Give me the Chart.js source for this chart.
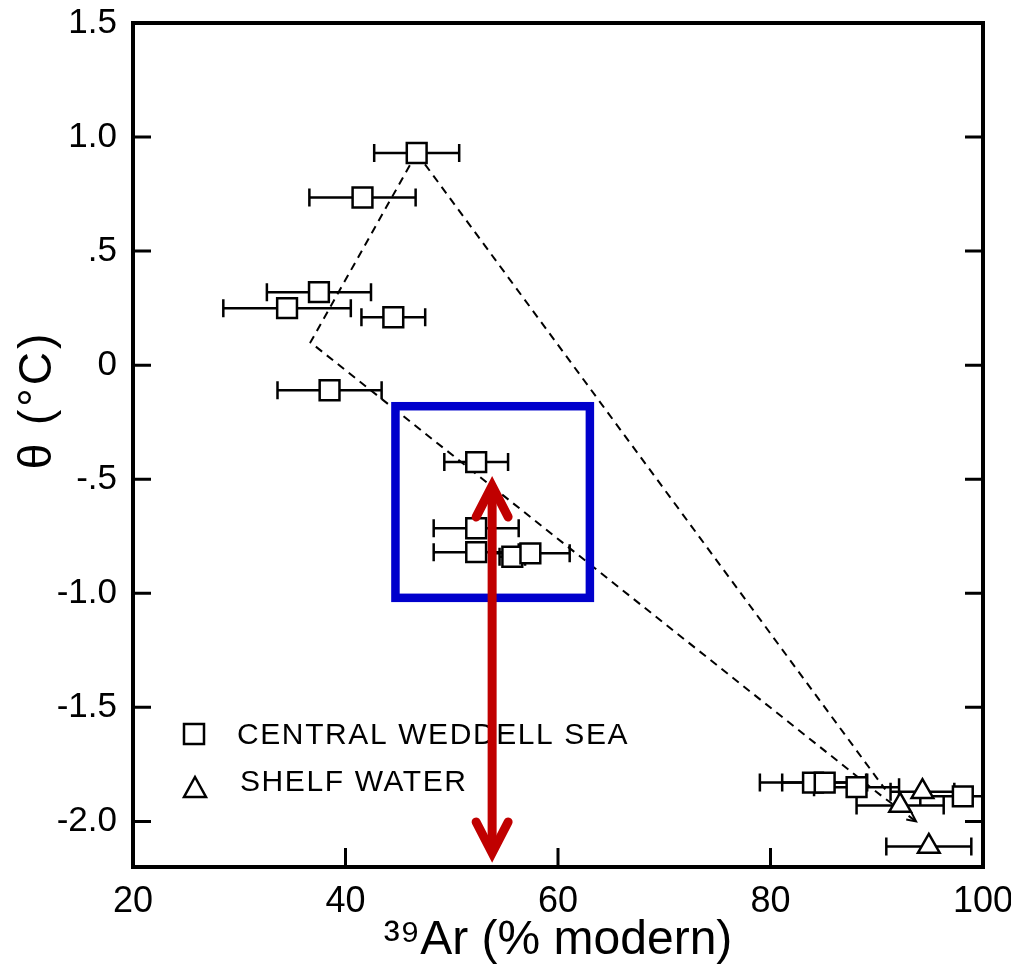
<!DOCTYPE html>
<html lang="en">
<head>
<meta charset="UTF-8">
<title>39Ar vs potential temperature</title>
<script src="https://cdn.jsdelivr.net/npm/chart.js@4.4.1/dist/chart.umd.min.js"></script>
<style>
  html, body { margin: 0; padding: 0; background: #fff; }
  .chartBox { width: 1011px; height: 965px; }
</style>
</head>
<body>
<div class="chartBox"><canvas id="myChart"></canvas></div>
<script>
// Central Weddell Sea samples (x = 39Ar % modern, y = theta degC, xErr = +/- error)
const cwsX   = [46.7, 41.6, 37.5, 34.5, 44.5, 38.5, 52.3, 52.3, 52.3, 55.7, 57.4, 84.0, 85.1, 88.1, 98.1];
const cwsY   = [0.93, 0.735, 0.32, 0.25, 0.21, -0.11, -0.425, -0.715, -0.82, -0.84, -0.825, -1.83, -1.83, -1.85, -1.89];
const cwsErr = [4.0, 5.0, 4.9, 6.0, 3.0, 4.9, 3.0, 4.0, 4.0, 1.2, 3.7, 5.0, 4.0, 4.0, 4.0];

// Shelf water samples
const shelfX   = [92.2, 94.3, 94.9];
const shelfY   = [-1.93, -1.87, -2.11];
const shelfErr = [4.1, 3.0, 4.0];

// dashed mixing lines
const mixAX = [46.7, 36.7, 90.5, 93.7];
const mixAY = [0.93, 0.10, -1.89, -2.0];
const mixBX = [46.7, 90.8];
const mixBY = [0.93, -1.86];

// axis ticks
const xTicks = [20, 40, 60, 80, 100];
const yTicks = [-2.0, -1.5, -1.0, -0.5, 0, 0.5, 1.0, 1.5];
const yTickLabels = ['-2.0', '-1.5', '-1.0', '-.5', '0', '.5', '1.0', '1.5'];

// highlight marks drawn over the figure (data units)
const boxX = [44.7, 63.0];
const boxY = [-0.18, -1.02];
const arrowX = 53.8;
const arrowY = [-0.49, -2.178];

const FONT = '"Liberation Sans", Arial, sans-serif';

function toPoints(xs, ys) {
    return xs.map((v, i) => ({ x: v, y: ys[i] }));
}

function drawErrBars(ctx, xs, ys, errs, xScale, yScale) {
    for (let i = 0; i < xs.length; i++) {
        const x1 = xScale.getPixelForValue(xs[i] - errs[i]);
        const x2 = xScale.getPixelForValue(xs[i] + errs[i]);
        const py = yScale.getPixelForValue(ys[i]);
        ctx.beginPath();
        ctx.moveTo(x1, py); ctx.lineTo(x2, py);
        ctx.moveTo(x1, py - 9); ctx.lineTo(x1, py + 9);
        ctx.moveTo(x2, py - 9); ctx.lineTo(x2, py + 9);
        ctx.stroke();
    }
}

const sketchPlugin = {
    id: 'sketch',
    beforeDatasetsDraw(chart) {
        const { ctx, chartArea: a, scales: { x, y } } = chart;
        ctx.save();
        ctx.beginPath();
        ctx.rect(a.left, a.top, a.right - a.left, a.bottom - a.top);
        ctx.clip();
        ctx.strokeStyle = '#000';
        ctx.lineWidth = 2.5;
        drawErrBars(ctx, cwsX, cwsY, cwsErr, x, y);
        drawErrBars(ctx, shelfX, shelfY, shelfErr, x, y);
        ctx.restore();
    },
    afterDraw(chart) {
        const { ctx, chartArea: a, scales: { x, y } } = chart;
        ctx.save();
        ctx.strokeStyle = '#000';
        ctx.fillStyle = '#000';

        // little arrow head at the end of the lower mixing line
        const n = mixAX.length;
        const ex = x.getPixelForValue(mixAX[n - 1]), ey = y.getPixelForValue(mixAY[n - 1]);
        const sx = x.getPixelForValue(mixAX[n - 2]), sy = y.getPixelForValue(mixAY[n - 2]);
        const ang = Math.atan2(ey - sy, ex - sx);
        ctx.lineWidth = 2;
        ctx.beginPath();
        ctx.moveTo(ex - 10 * Math.cos(ang - 0.45), ey - 10 * Math.sin(ang - 0.45));
        ctx.lineTo(ex, ey);
        ctx.lineTo(ex - 10 * Math.cos(ang + 0.45), ey - 10 * Math.sin(ang + 0.45));
        ctx.stroke();

        // frame
        ctx.lineWidth = 4;
        ctx.strokeRect(a.left, a.top, a.right - a.left, a.bottom - a.top);

        // inward tick marks
        ctx.lineWidth = 3;
        ctx.beginPath();
        x.ticks.forEach(t => {
            if (t.value <= x.min || t.value >= x.max) return;
            const px = x.getPixelForValue(t.value);
            ctx.moveTo(px, a.bottom); ctx.lineTo(px, a.bottom - 19);
        });
        y.ticks.forEach(t => {
            if (t.value >= y.max || t.value <= y.min) return;
            const py = y.getPixelForValue(t.value);
            ctx.moveTo(a.left, py); ctx.lineTo(a.left + 18, py);
            ctx.moveTo(a.right, py); ctx.lineTo(a.right - 18, py);
        });
        ctx.stroke();

        // y axis title
        ctx.font = '46px ' + FONT;
        ctx.letterSpacing = '3px';
        ctx.textAlign = 'center';
        ctx.textBaseline = 'middle';
        ctx.save();
        ctx.translate(38, 400);
        ctx.rotate(-Math.PI / 2);
        ctx.fillText('\u03B8 (\u00B0C)', 0, 0);
        ctx.restore();

        // legend
        ctx.lineWidth = 2.5;
        ctx.strokeRect(a.left + 61 - 10, a.bottom - 133 - 10, 20, 20);
        const tx = a.left + 62, ty = a.bottom - 78;
        ctx.beginPath();
        ctx.moveTo(tx, ty - 12);
        ctx.lineTo(tx + 11, ty + 8);
        ctx.lineTo(tx - 11, ty + 8);
        ctx.closePath();
        ctx.stroke();
        ctx.font = '30px ' + FONT;
        ctx.letterSpacing = '1.6px';
        ctx.textAlign = 'left';
        ctx.fillText('CENTRAL WEDDELL SEA', a.left + 104, a.bottom - 131);
        ctx.fillText('SHELF WATER', a.left + 107, a.bottom - 84);
        ctx.letterSpacing = '0px';

        // blue highlight box
        ctx.strokeStyle = '#0000cc';
        ctx.lineWidth = 8.5;
        const bx1 = x.getPixelForValue(boxX[0]), bx2 = x.getPixelForValue(boxX[1]);
        const by1 = y.getPixelForValue(boxY[0]), by2 = y.getPixelForValue(boxY[1]);
        ctx.strokeRect(bx1, by1, bx2 - bx1, by2 - by1);

        // red double arrow
        const ax = x.getPixelForValue(arrowX);
        const top = y.getPixelForValue(arrowY[0]);
        const bot = y.getPixelForValue(arrowY[1]);
        ctx.strokeStyle = '#c00000';
        ctx.lineWidth = 9;
        ctx.lineCap = 'butt';
        ctx.beginPath();
        ctx.moveTo(ax, top + 12); ctx.lineTo(ax, bot - 12);
        ctx.stroke();
        ctx.lineCap = 'round';
        ctx.lineJoin = 'miter';
        ctx.beginPath();
        ctx.moveTo(ax - 16, top + 40); ctx.lineTo(ax, top + 9); ctx.lineTo(ax + 16, top + 40);
        ctx.moveTo(ax - 16, bot - 40); ctx.lineTo(ax, bot - 9); ctx.lineTo(ax + 16, bot - 40);
        ctx.stroke();
        ctx.restore();
    }
};

const config = {
    type: 'scatter',
    data: {
        datasets: [
            {
                label: 'CENTRAL WEDDELL SEA',
                data: toPoints(cwsX, cwsY),
                pointStyle: 'rect',
                pointRadius: 14,
                pointHoverRadius: 14,
                borderWidth: 2.5,
                borderColor: '#000',
                backgroundColor: '#fff',
                order: 0
            },
            {
                label: 'SHELF WATER',
                data: toPoints(shelfX, shelfY),
                pointStyle: 'triangle',
                pointRadius: 12.5,
                pointHoverRadius: 12.5,
                borderWidth: 2.5,
                borderColor: '#000',
                backgroundColor: '#fff',
                order: 0
            },
            {
                label: 'mixing A',
                data: toPoints(mixAX, mixAY),
                showLine: true,
                borderColor: '#000',
                borderWidth: 2,
                borderDash: [8, 6],
                pointRadius: 0,
                order: 2
            },
            {
                label: 'mixing B',
                data: toPoints(mixBX, mixBY),
                showLine: true,
                borderColor: '#000',
                borderWidth: 2,
                borderDash: [8, 6],
                pointRadius: 0,
                order: 2
            }
        ]
    },
    options: {
        responsive: true,
        maintainAspectRatio: false,
        animation: false,
        devicePixelRatio: 1,
        layout: { padding: { left: 0, right: 28, top: 23, bottom: 0 } },
        plugins: {
            legend: { display: false },
            tooltip: { enabled: false }
        },
        scales: {
            x: {
                type: 'linear',
                position: 'bottom',
                min: 20,
                max: 100,
                afterBuildTicks: s => { s.ticks = xTicks.map(v => ({ value: v })); },
                afterFit: s => { s.height = 98; s.paddingLeft = 0; s.paddingRight = 0; },
                grid: { display: false },
                border: { display: false },
                ticks: {
                    color: '#000',
                    padding: 5,
                    maxRotation: 0,
                    font: { family: FONT, size: 36 }
                },
                title: {
                    display: true,
                    text: '\u00B3\u2079Ar (% modern)',
                    color: '#000',
                    font: { family: FONT, size: 48, lineHeight: 1 },
                    padding: { top: 0, bottom: 0 }
                }
            },
            y: {
                type: 'linear',
                min: -2.2,
                max: 1.5,
                afterBuildTicks: s => { s.ticks = yTicks.map(v => ({ value: v })); },
                afterFit: s => { s.width = 133; s.paddingTop = 0; s.paddingBottom = 0; },
                grid: { display: false },
                border: { display: false },
                ticks: {
                    color: '#000',
                    padding: 8,
                    font: { family: FONT, size: 35 },
                    callback: (v) => {
                        const i = yTicks.findIndex(t => Math.abs(t - v) < 1e-6);
                        return i >= 0 ? yTickLabels[i] : '';
                    }
                }
            }
        }
    },
    plugins: [sketchPlugin]
};

const myChart = new Chart(document.getElementById('myChart'), config);
</script>
</body>
</html>
